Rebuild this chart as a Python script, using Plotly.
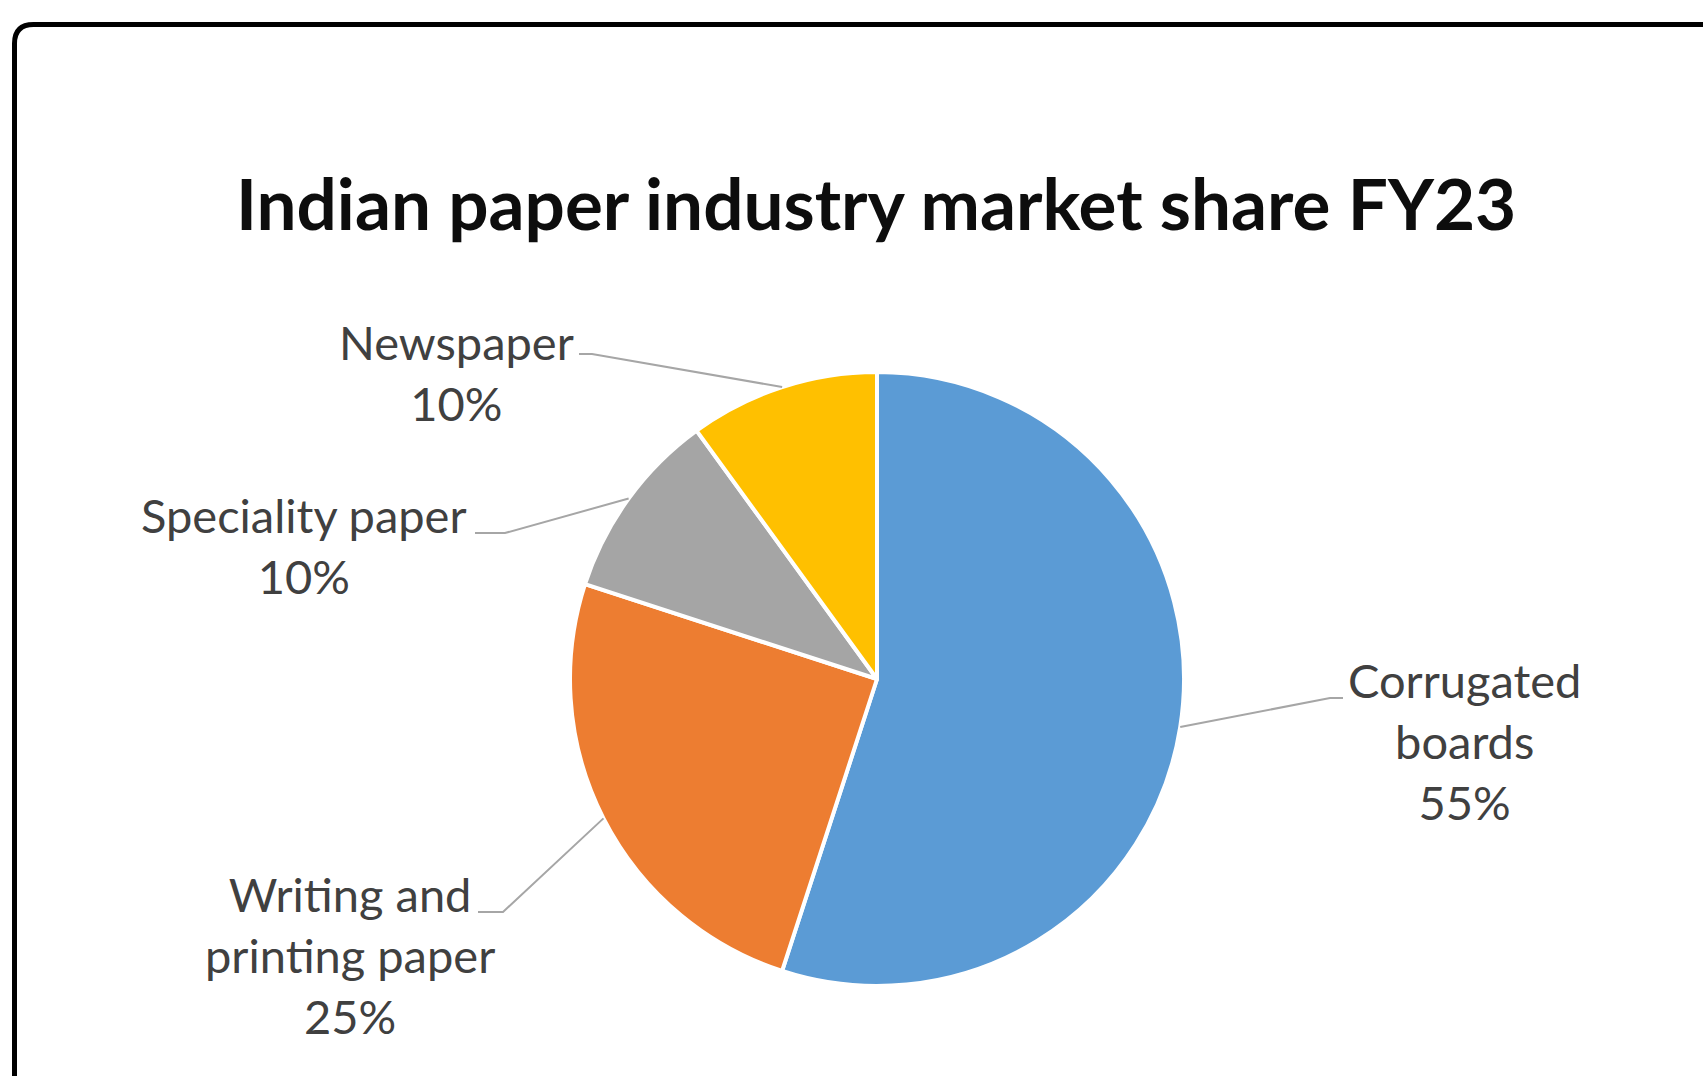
import math
import plotly.graph_objects as go

# Market share of the Indian paper industry, FY23 (percent)
categories = ["Corrugated boards", "Writing and printing paper", "Speciality paper", "Newspaper"]
shares = [55, 25, 10, 10]
colors = ["#5B9BD5", "#ED7D31", "#A5A5A5", "#FFC000"]

# Label text broken over lines the way it is drawn next to each slice
label_lines = [["Corrugated", "boards"], ["Writing and", "printing paper"], ["Speciality paper"], ["Newspaper"]]

W, H = 1703, 1076
CX, CY, R = 877, 679, 307          # pie centre and radius in pixels

# Label block centres (pixels) and the side the leader line leaves from
label_pos = [(1464, 741), (350, 955), (304, 545), (456, 372)]
leader_start = [(1343, 698, -13), (478, 912, 25), (475, 533, 30), (579, 354, 13)]


def px(x):
    return x / W


def py(y):
    return 1 - y / H


fig = go.Figure(
    go.Pie(
        labels=categories,
        values=shares,
        sort=False,
        direction="clockwise",
        rotation=0,
        marker=dict(colors=colors, line=dict(color="white", width=4)),
        textinfo="none",
        hoverinfo="label+percent",
        showlegend=False,
        domain=dict(x=[px(CX - R), px(CX + R)], y=[py(CY + R), py(CY - R)]),
    )
)

total = sum(shares)
annotations = []
shapes = []
cum = 0.0
for name_lines, val, (lx, ly), (sx, sy, dx) in zip(label_lines, shares, label_pos, leader_start):
    mid = (cum + val / 2) / total * 2 * math.pi   # clockwise from 12 o'clock
    cum += val
    ex = CX + R * math.sin(mid)
    ey = CY - R * math.cos(mid)
    text = "<br>".join(name_lines + [f"{val / total:.0%}"])
    annotations.append(dict(
        x=px(lx), y=py(ly), xref="paper", yref="paper",
        xanchor="center", yanchor="middle", align="center",
        text=text, showarrow=False,
        font=dict(family="Lato", size=47, color="#404040"),
    ))
    shapes.append(dict(
        type="path", xref="paper", yref="paper",
        path=f"M {px(sx)},{py(sy)} L {px(sx + dx)},{py(sy)} L {px(ex)},{py(ey)}",
        line=dict(color="#A6A6A6", width=2),
    ))

# Chart title
annotations.append(dict(
    x=px(876), y=py(203), xref="paper", yref="paper",
    xanchor="center", yanchor="middle",
    text="<b>Indian paper industry market share FY23</b>", showarrow=False,
    font=dict(family="Lato", size=71, color="#0D0D0D"),
))

# Rounded outer frame running off the right and bottom edges
fx, fy, fr = 14.5, 24.5, 19
shapes.append(dict(
    type="path", xref="paper", yref="paper",
    path=(f"M {px(1730)},{py(fy)} L {px(fx + fr)},{py(fy)} "
          f"Q {px(fx)},{py(fy)} {px(fx)},{py(fy + fr)} L {px(fx)},{py(1100)}"),
    line=dict(color="black", width=5),
))

fig.update_layout(
    width=W, height=H,
    margin=dict(l=0, r=0, t=0, b=0),
    paper_bgcolor="white",
    plot_bgcolor="white",
    annotations=annotations,
    shapes=shapes,
)

fig.write_html("out.html")
